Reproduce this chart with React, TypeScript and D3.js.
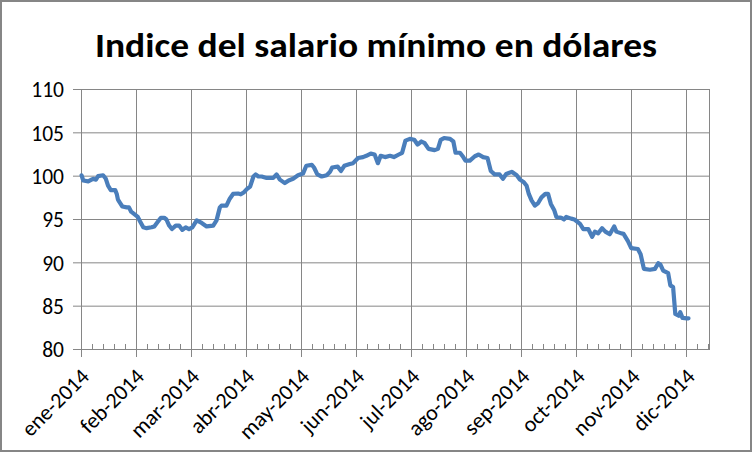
import React from "react";
import * as d3 from "d3";

// x position in months since ene-2014 (0 = ene-2014), value = index
const monthPos = [
  0.02, 0.05, 0.14, 0.2, 0.23, 0.28, 0.32, 0.41, 0.46, 0.5, 0.55, 0.63, 0.66, 0.68, 0.72, 0.76, 0.84, 0.88, 0.92, 0.96,
  1.0, 1.04, 1.08, 1.14, 1.2, 1.29, 1.34, 1.4, 1.46, 1.52, 1.56, 1.61, 1.66, 1.73, 1.79, 1.85, 1.91, 1.97,
  2.03, 2.11, 2.2, 2.29, 2.41, 2.47, 2.53, 2.56, 2.65, 2.71, 2.77, 2.86, 2.91, 2.97,
  3.02, 3.08, 3.14, 3.18, 3.23, 3.29, 3.38, 3.5, 3.56, 3.62, 3.71, 3.78, 3.86, 3.95,
  4.04, 4.1, 4.2, 4.24, 4.3, 4.38, 4.47, 4.53, 4.57, 4.67, 4.73, 4.79, 4.89, 4.95,
  5.04, 5.13, 5.19, 5.27, 5.34, 5.4, 5.45, 5.53, 5.62, 5.69, 5.78, 5.84, 5.9, 5.98,
  6.06, 6.12, 6.19, 6.25, 6.32, 6.43, 6.49, 6.54, 6.6, 6.71, 6.77, 6.81, 6.89, 6.95, 6.99,
  7.07, 7.16, 7.23, 7.31, 7.39, 7.45, 7.52, 7.61, 7.67, 7.73, 7.83, 7.92, 7.98,
  8.05, 8.1, 8.14, 8.19, 8.25, 8.31, 8.37, 8.44, 8.49, 8.54, 8.6, 8.64, 8.73, 8.78, 8.82, 8.91, 8.97,
  9.07, 9.13, 9.22, 9.29, 9.34, 9.4, 9.47, 9.53, 9.61, 9.69, 9.73, 9.82, 9.86, 9.94,
  10.0, 10.12, 10.17, 10.23, 10.34, 10.43, 10.49, 10.53, 10.58, 10.67, 10.71, 10.76, 10.8, 10.86, 10.89, 10.93,
  11.01, 11.04,
];
const values = [
  100.1, 99.5, 99.4, 99.6, 99.7, 99.6, 100.0, 100.1, 99.7, 98.9, 98.4, 98.4, 97.9, 97.3, 96.9, 96.5, 96.4, 96.4, 95.9, 95.7,
  95.5, 95.3, 94.8, 94.1, 94.0, 94.1, 94.2, 94.7, 95.2, 95.2, 95.0, 94.3, 93.9, 94.3, 94.3, 93.8, 94.1, 93.9,
  94.1, 94.9, 94.6, 94.2, 94.3, 94.9, 96.4, 96.6, 96.6, 97.4, 97.95, 98.0, 97.9, 98.15,
  98.5, 98.8, 99.96, 100.2, 99.96, 99.96, 99.8, 99.8, 100.2, 99.6, 99.2, 99.5, 99.7, 100.1,
  100.3, 101.2, 101.3, 101.0, 100.2, 99.96, 100.1, 100.5, 101.0, 101.1, 100.6, 101.2, 101.4, 101.5,
  102.1, 102.2, 102.35, 102.6, 102.5, 101.5, 102.35, 102.2, 102.35, 102.2, 102.5, 102.7, 104.1, 104.3,
  104.2, 103.65, 104.0, 103.8, 103.15, 103.0, 103.15, 104.2, 104.4, 104.3, 104.0, 102.7, 102.7, 102.2, 101.8,
  101.8, 102.3, 102.5, 102.2, 102.1, 100.6, 100.2, 100.2, 99.7, 100.25, 100.5, 100.1, 99.6,
  99.3, 98.9, 97.95, 97.2, 96.6, 96.9, 97.55, 97.95, 97.95, 96.8, 96.1, 95.3, 95.2, 95.0, 95.3, 95.1, 95.0,
  94.5, 93.9, 93.9, 93.0, 93.6, 93.4, 94.0, 93.6, 93.3, 94.2, 93.6, 93.4, 93.35, 92.5,
  91.7, 91.6, 91.0, 89.3, 89.2, 89.3, 89.96, 89.8, 89.1, 88.8, 87.4, 87.2, 84.1, 83.9, 84.3, 83.65,
  83.6, 83.6,
];
const monthLabels = [
  "ene-2014", "feb-2014", "mar-2014", "abr-2014", "may-2014", "jun-2014",
  "jul-2014", "ago-2014", "sep-2014", "oct-2014", "nov-2014", "dic-2014",
];
const yTicks = [80, 85, 90, 95, 100, 105, 110];
const title = "Indice del salario mínimo en dólares";

const W = 752;
const H = 452;
const FONT = "Carlito, Calibri, Lato, 'Open Sans', sans-serif";
const GRID = "#868686";

export default function App() {
  const x = d3.scaleLinear().domain([0, 11.43]).range([80.5, 710]);
  const y = d3.scaleLinear().domain([80, 110]).range([349.5, 89.5]);
  const data = monthPos.map((m, i) => [m, values[i]] as [number, number]);
  const line = d3
    .line<[number, number]>()
    .x((d) => x(d[0]))
    .y((d) => y(d[1]))
    .curve(d3.curveLinear);
  const minor: number[] = [];
  for (let i = 0; i < 12; i++) for (let k = 1; k < 5; k++) minor.push(i + k / 5);
  const minorT = minor.filter((m) => m < 11.43);
  const majors = monthLabels.map((_, i) => i);

  return (
    <div style={{ position: "fixed", left: 0, top: 0 }}>
      <svg width={W} height={H} style={{ display: "block", background: "#fff" }}>
        <rect x={1} y={1} width={W - 2} height={H - 2} fill="#fff" stroke={GRID} strokeWidth={2} />
        <text
          x={376}
          y={57}
          textAnchor="middle"
          fontFamily={FONT}
          fontWeight="bold"
          fontSize={34}
          textLength={562}
          lengthAdjust="spacingAndGlyphs"
          fill="#000"
        >
          {title}
        </text>
        {/* horizontal gridlines */}
        {yTicks.map((t) => (
          <line key={"h" + t} x1={73} x2={710} y1={y(t)} y2={y(t)} stroke={GRID} strokeWidth={1} />
        ))}
        {/* vertical gridlines */}
        {majors.map((m) => (
          <line key={"v" + m} x1={Math.round(x(m)) + 0.5} x2={Math.round(x(m)) + 0.5} y1={89.5} y2={357} stroke={GRID} strokeWidth={1} />
        ))}
        <line x1={709.5} x2={709.5} y1={89.5} y2={349.5} stroke={GRID} strokeWidth={1} />
        {minorT.map((m, i) => (
          <line key={"mi" + i} x1={Math.round(x(m)) + 0.5} x2={Math.round(x(m)) + 0.5} y1={344} y2={349.5} stroke={GRID} strokeWidth={1} />
        ))}
        {/* y labels */}
        {yTicks.map((t) => (
          <text key={"yl" + t} x={64} y={y(t)} dy="0.36em" textAnchor="end" fontFamily={FONT} fontSize={21.5} fill="#000">
            {t}
          </text>
        ))}
        {/* x labels */}
        {monthLabels.map((lab, i) => {
          const px = x(i) - 1;
          const py = 367;
          return (
            <text
              key={lab}
              x={px}
              y={py}
              textAnchor="end"
              dy="0.7em"
              transform={`rotate(-45 ${px} ${py})`}
              fontFamily={FONT}
              fontSize={22}
              fill="#000"
            >
              {lab}
            </text>
          );
        })}
        <path d={line(data) || ""} fill="none" stroke="#4a7ebb" strokeWidth={4.2} strokeLinejoin="round" strokeLinecap="round" />
      </svg>
    </div>
  );
}
